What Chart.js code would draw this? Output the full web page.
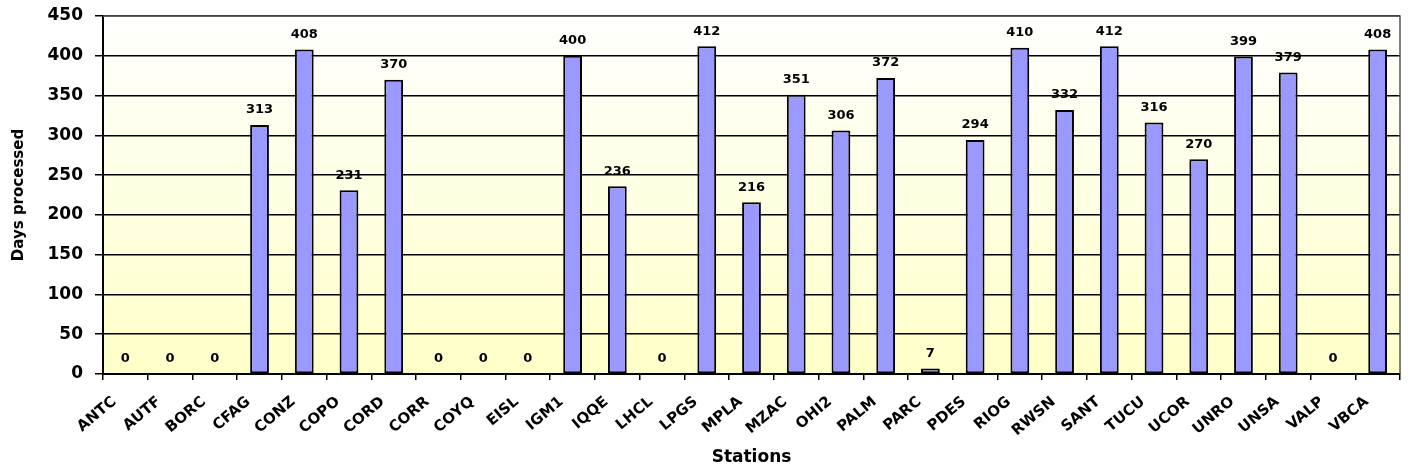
<!DOCTYPE html>
<html>
<head>
<meta charset="utf-8">
<title>Days processed per station</title>
<script src="https://cdn.jsdelivr.net/npm/chart.js@4.4.1/dist/chart.umd.min.js"></script>
<style>
  html, body { margin: 0; padding: 0; background: #fff; }
  #wrap { width: 1408px; height: 474px; }
</style>
</head>
<body>
<div id="wrap"><canvas id="chartDias"></canvas></div>
<script>
/* estaciones y dias procesados */
const stations = ['ANTC', 'AUTF', 'BORC', 'CFAG', 'CONZ', 'COPO', 'CORD', 'CORR', 'COYQ', 'EISL',
                  'IGM1', 'IQQE', 'LHCL', 'LPGS', 'MPLA', 'MZAC', 'OHI2', 'PALM', 'PARC', 'PDES',
                  'RIOG', 'RWSN', 'SANT', 'TUCU', 'UCOR', 'UNRO', 'UNSA', 'VALP', 'VBCA'];
const daysProcessed = [0, 0, 0, 313, 408, 231, 370, 0, 0, 0,
                       400, 236, 0, 412, 216, 351, 306, 372, 7, 294,
                       410, 332, 412, 316, 270, 399, 379, 0, 408];
const yTicks = [0, 50, 100, 150, 200, 250, 300, 350, 400, 450];

const FONT = "'DejaVu Sans', Verdana, sans-serif";

// fondo degradado blanco -> amarillo dentro del area del grafico
const fondoPlugin = {
  id: 'fondo',
  beforeDraw(chart) {
    const { ctx, chartArea: a } = chart;
    const g = ctx.createLinearGradient(0, a.top, 0, a.bottom);
    g.addColorStop(0, '#ffffff');
    g.addColorStop(1, '#ffffc8');
    ctx.save();
    ctx.fillStyle = g;
    ctx.fillRect(a.left, a.top, a.right - a.left, a.bottom - a.top);
    ctx.restore();
  },
  afterDraw(chart) {
    const { ctx, chartArea: a } = chart;
    ctx.save();
    ctx.strokeStyle = '#555';
    ctx.lineWidth = 1.5;
    ctx.beginPath();
    ctx.moveTo(a.left, a.top);
    ctx.lineTo(a.right, a.top);
    ctx.lineTo(a.right, a.bottom);
    ctx.stroke();
    ctx.restore();
  }
};

// etiquetas con el valor encima de cada barra
const valoresPlugin = {
  id: 'valores',
  afterDatasetsDraw(chart) {
    const { ctx } = chart;
    const meta = chart.getDatasetMeta(0);
    ctx.save();
    ctx.font = 'bold 13px ' + FONT;
    ctx.fillStyle = '#000';
    ctx.textAlign = 'center';
    ctx.textBaseline = 'middle';
    meta.data.forEach((bar, i) => {
      ctx.fillText(String(daysProcessed[i]), bar.x, bar.y - 15);
    });
    ctx.restore();
  }
};

new Chart(document.getElementById('chartDias'), {
  type: 'bar',
  data: {
    labels: stations,
    datasets: [{
      data: daysProcessed,
      backgroundColor: '#9999ff',
      borderColor: '#000',
      borderWidth: c => (c.raw > 0 ? 2 : 0),
      borderSkipped: false,
      barPercentage: 0.42,
      categoryPercentage: 1
    }]
  },
  options: {
    responsive: true,
    maintainAspectRatio: false,
    animation: false,
    layout: { padding: { top: 0, right: 8, left: 0, bottom: 0 } },
    plugins: { legend: { display: false }, tooltip: { enabled: false } },
    scales: {
      x: {
        offset: true,
        grid: { offset: true, drawOnChartArea: false, drawTicks: true, tickLength: 6, color: '#000', lineWidth: 1.5 },
        border: { color: '#000', width: 2 },
        ticks: {
          color: '#000',
          font: { family: FONT, size: 15, weight: 'bold' },
          minRotation: 40,
          maxRotation: 40,
          autoSkip: false,
          padding: 13,
          labelOffset: -11
        },
        title: {
          display: true,
          text: 'Stations',
          color: '#000',
          font: { family: FONT, size: 17, weight: 'bold' },
          padding: { top: 0, bottom: 6 }
        },
        afterFit: s => { s.height = 100; }
      },
      y: {
        min: 0,
        max: 450,
        afterBuildTicks: s => { s.ticks = yTicks.map(v => ({ value: v })); },
        grid: { color: '#000', lineWidth: 1.5, tickLength: 8 },
        border: { color: '#000', width: 2 },
        ticks: {
          color: '#000',
          font: { family: FONT, size: 17, weight: 'bold' },
          padding: 12
        },
        title: {
          display: true,
          text: 'Days processed',
          color: '#000',
          font: { family: FONT, size: 15, weight: 'bold' },
          padding: { top: 10, bottom: 0 }
        },
        afterFit: s => { s.width = 103; s.paddingTop = 16; }
      }
    }
  },
  plugins: [fondoPlugin, valoresPlugin]
});
</script>
</body>
</html>
